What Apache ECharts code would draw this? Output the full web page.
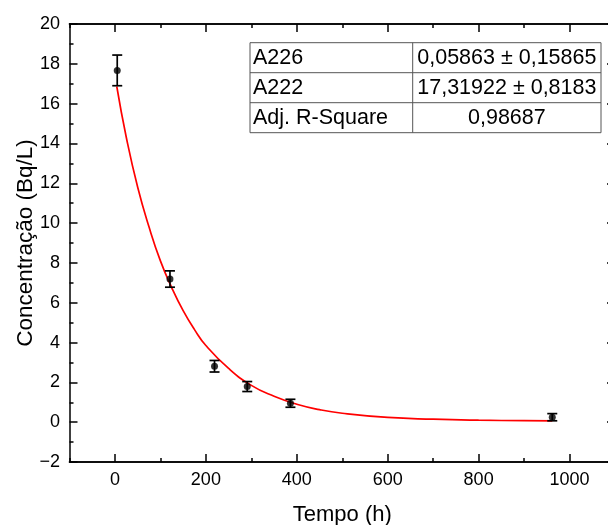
<!DOCTYPE html>
<html>
<head>
<meta charset="utf-8">
<script src="https://cdn.jsdelivr.net/npm/echarts@6/dist/echarts.min.js"></script>
<style>
html,body{margin:0;padding:0;background:#fff;}
#c{width:608px;height:525px;}
</style>
</head>
<body>
<div id="c"></div>
<script>
// Measured points
var timeH = [5, 121, 219, 291, 386, 962];
var conc = [17.67, 7.19, 2.81, 1.79, 0.95, 0.25];
var concErr = [0.77, 0.41, 0.29, 0.25, 0.20, 0.18];
// Fit curve
var fitT = [4, 25, 50, 75, 100, 125, 150, 175, 200, 250, 300, 350, 400, 450, 500, 600, 700, 800, 900, 962];
var fitC = [16.86, 14.3, 11.8, 9.8, 8.1, 6.75, 5.6, 4.65, 3.85, 2.7, 1.85, 1.3, 0.9, 0.63, 0.45, 0.24, 0.15, 0.10, 0.078, 0.07];
// Axis ticks
var xMin = -100, xMax = 1100;
var xMajorTicks = [0, 200, 400, 600, 800, 1000];
var xMinorTicks = [-100, 100, 300, 500, 700, 900, 1100];
var yMin = -2, yMax = 20, yStep = 2;
// Table texts
var tableRows = [
  ['A226', '0,05863 ± 0,15865'],
  ['A222', '17,31922 ± 0,8183'],
  ['Adj. R-Square', '0,98687']
];

var FONT = 'Liberation Sans, Arial, sans-serif';
var pts = timeH.map(function(t, i){ return [t, conc[i]]; });
var errData = timeH.map(function(t, i){ return [t, conc[i] - concErr[i], conc[i] + concErr[i]]; });
var fitData = fitT.map(function(t, i){ return [t, fitC[i]]; });

function minus(v){ return String(v).replace('-', '\u2212'); }

var LW = 1.5;
function xAxisDef(pos, ticks, len, withLabels) {
  var ax = {
    type: 'value', min: xMin, max: xMax, position: pos,
    axisLine: {show: true, onZero: false, lineStyle: {color: '#000', width: LW}},
    axisTick: {show: true, inside: true, length: len, customValues: ticks, lineStyle: {color: '#000', width: LW}},
    axisLabel: {show: false},
    splitLine: {show: false}
  };
  if (withLabels) {
    ax.axisLabel = {show: true, customValues: ticks, fontSize: 18, color: '#000', margin: 9, fontFamily: FONT, formatter: minus};
    ax.name = 'Tempo (h)';
    ax.nameLocation = 'middle';
    ax.nameGap = 42;
    ax.nameMoveOverlap = false;
    ax.nameTextStyle = {fontSize: 22, color: '#000', fontFamily: FONT};
  }
  return ax;
}
function yAxisDef(pos, withLabels) {
  var ax = {
    type: 'value', min: yMin, max: yMax, interval: yStep, position: pos,
    axisLine: {show: true, onZero: false, lineStyle: {color: '#000', width: LW}},
    axisTick: {show: true, inside: true, length: 8, lineStyle: {color: '#000', width: LW}},
    minorTick: {show: true, splitNumber: 2, length: 4, lineStyle: {color: '#000', width: LW}},
    axisLabel: {show: false},
    splitLine: {show: false}
  };
  if (withLabels) {
    ax.axisLabel = {show: true, fontSize: 18, color: '#000', margin: 9.5, fontFamily: FONT, formatter: minus};
    ax.name = 'Concentração (Bq/L)';
    ax.nameLocation = 'middle';
    ax.nameGap = 32;
    ax.nameMoveOverlap = false;
    ax.nameTextStyle = {fontSize: 22.5, color: '#000', fontFamily: FONT};
  }
  return ax;
}

var graphics = [];
var tx0 = 250, tx1 = 412.7, tx2 = 601, ty0 = 42.7, rowH = 30;
graphics.push({type: 'rect', shape: {x: tx0, y: ty0, width: tx2 - tx0, height: rowH * 3},
  style: {fill: '#fff', stroke: '#555', lineWidth: 1}, z: 100});
graphics.push({type: 'line', shape: {x1: tx1, y1: ty0, x2: tx1, y2: ty0 + rowH * 3}, style: {stroke: '#555', lineWidth: 1}, z: 101});
for (var r = 1; r < 3; r++) {
  graphics.push({type: 'line', shape: {x1: tx0, y1: ty0 + rowH * r, x2: tx2, y2: ty0 + rowH * r}, style: {stroke: '#555', lineWidth: 1}, z: 101});
}
tableRows.forEach(function(row, i){
  var cy = ty0 + rowH * i + rowH / 2;
  graphics.push({type: 'text', x: tx0 + 3, y: cy, z: 102,
    style: {text: row[0], font: '21.5px ' + FONT, fill: '#000', textAlign: 'left', textVerticalAlign: 'middle'}});
  graphics.push({type: 'text', x: (tx1 + tx2) / 2, y: cy, z: 102,
    style: {text: row[1], font: '21.5px ' + FONT, fill: '#000', textAlign: 'center', textVerticalAlign: 'middle'}});
});

var option = {
  backgroundColor: '#fff',
  animation: false,
  textStyle: {fontFamily: FONT},
  grid: {left: 69.5, top: 24, width: 545.5, height: 438, containLabel: false, outerBoundsMode: 'none'},
  xAxis: [
    xAxisDef('bottom', xMajorTicks, 8, true),
    xAxisDef('bottom', xMinorTicks, 4, false),
    xAxisDef('top', xMajorTicks, 8, false),
    xAxisDef('top', xMinorTicks, 4, false)
  ],
  yAxis: [
    yAxisDef('left', true),
    yAxisDef('right', false)
  ],
  series: [
    {
      type: 'line', data: fitData, smooth: true, showSymbol: false, symbol: 'none',
      lineStyle: {color: '#ff0000', width: 1.7}, z: 2
    },
    {
      type: 'custom', data: errData, z: 3,
      renderItem: function(params, api){
        var x = api.value(0);
        var lo = api.coord([x, api.value(1)]);
        var hi = api.coord([x, api.value(2)]);
        var cw = 5;
        var st = {stroke: '#000', lineWidth: 1.7};
        return {type: 'group', children: [
          {type: 'line', shape: {x1: lo[0], y1: lo[1], x2: hi[0], y2: hi[1]}, style: st},
          {type: 'line', shape: {x1: lo[0] - cw, y1: lo[1], x2: lo[0] + cw, y2: lo[1]}, style: st},
          {type: 'line', shape: {x1: hi[0] - cw, y1: hi[1], x2: hi[0] + cw, y2: hi[1]}, style: st}
        ]};
      }
    },
    {
      type: 'scatter', data: pts, symbol: 'circle', symbolSize: 7,
      itemStyle: {color: '#000'}, z: 4
    }
  ],
  graphic: graphics
};

var chart = echarts.init(document.getElementById('c'), null, {renderer: 'canvas'});
chart.setOption(option);
</script>
</body>
</html>
